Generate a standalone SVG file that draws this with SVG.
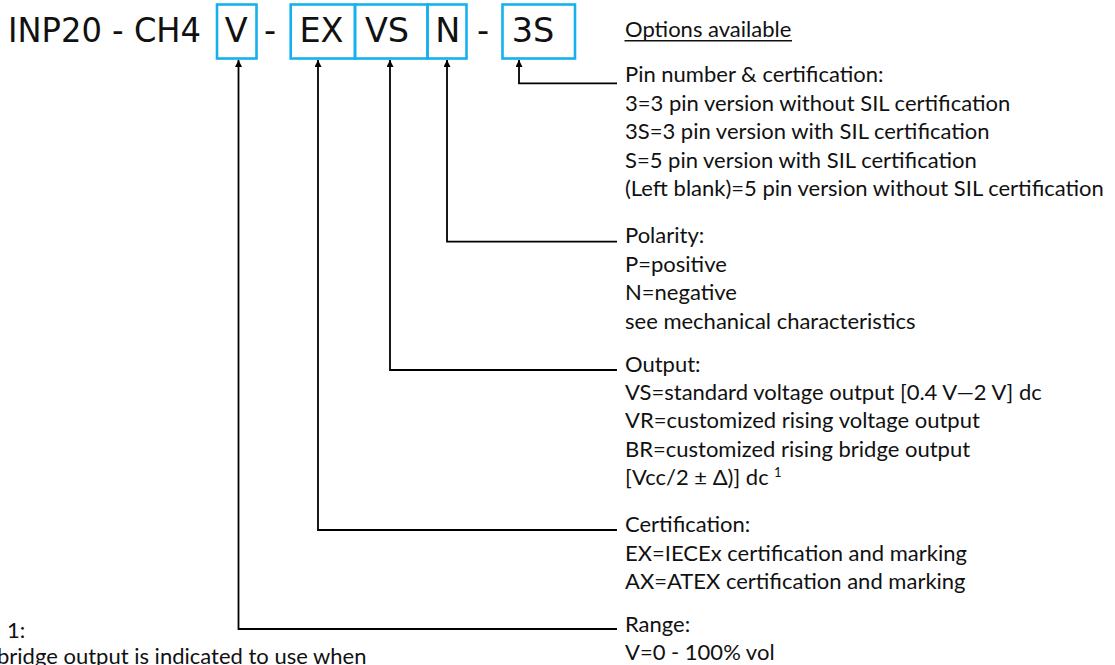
<svg xmlns="http://www.w3.org/2000/svg" width="1115" height="665" viewBox="0 0 1115 665">
<style>
.h{font-family:"DejaVu Sans",Verdana,sans-serif;font-size:33.5px;fill:#111}
.box{fill:none;stroke:#14B1EE;stroke-width:2.6}
.t{font-family:Lato,"Open Sans",sans-serif;font-size:22px;fill:#111}
.sup{font-family:Lato,"Open Sans",sans-serif;font-size:13px;fill:#111}
.c{fill:none;stroke:#000;stroke-width:1.8;marker-end:url(#arr)}
</style>
<defs>
<marker id="arr" viewBox="0 0 10 10" refX="10" refY="5" markerWidth="7" markerHeight="7" orient="auto" markerUnits="userSpaceOnUse">
<path d="M0,0 L10,5 L0,10 z" fill="#000"/>
</marker>
</defs>
<rect width="1115" height="665" fill="#fff"/>
<g id="code">
<text class="h" x="8" y="41.7" textLength="193" lengthAdjust="spacingAndGlyphs">INP20 - CH4</text>
<text class="h" x="270" y="41.7" text-anchor="middle">-</text>
<text class="h" x="483" y="41.7" text-anchor="middle">-</text>
</g>
<g id="node-V"><rect class="box" x="217" y="4.5" width="39.5" height="54"/><text class="h" x="236.2" y="41.7" text-anchor="middle">V</text></g>
<g id="node-EX"><rect class="box" x="290.7" y="4.5" width="64.3" height="54"/><text class="h" x="321.5" y="41.7" text-anchor="middle">EX</text></g>
<g id="node-VS"><rect class="box" x="355" y="4.5" width="72.5" height="54"/><text class="h" x="387" y="41.7" text-anchor="middle">VS</text></g>
<g id="node-N"><rect class="box" x="427.5" y="4.5" width="39" height="54"/><text class="h" x="447.7" y="41.7" text-anchor="middle">N</text></g>
<g id="node-3S"><rect class="box" x="502.5" y="4.5" width="72.5" height="54"/><text class="h" x="533" y="41.7" text-anchor="middle">3S</text></g>
<g id="connectors">
<path class="c" d="M617,83.3 H519 V60"/>
<path class="c" d="M617,241.7 H447 V60"/>
<path class="c" d="M617,370 H390 V60"/>
<path class="c" d="M617,530 H318 V60"/>
<path class="c" d="M617,629 H238.5 V60"/>
</g>
<g id="options-title">
<text class="t" x="625" y="37">Options available</text>
<line x1="624.5" y1="40.8" x2="792" y2="40.8" stroke="#111" stroke-width="1.4"/>
</g>
<g id="opt-pin">
<text class="t" x="625" y="82">Pin number &amp; certification:</text>
<text class="t" x="625" y="110.5">3=3 pin version without SIL certification</text>
<text class="t" x="625" y="139">3S=3 pin version with SIL certification</text>
<text class="t" x="625" y="167.5">S=5 pin version with SIL certification</text>
<text class="t" x="625" y="196">(Left blank)=5 pin version without SIL certification</text>
</g>
<g id="opt-polarity">
<text class="t" x="625" y="243">Polarity:</text>
<text class="t" x="625" y="271.5">P=positive</text>
<text class="t" x="625" y="300">N=negative</text>
<text class="t" x="625" y="328.5">see mechanical characteristics</text>
</g>
<g id="opt-output">
<text class="t" x="625" y="372">Output:</text>
<text class="t" x="625" y="400">VS=standard voltage output [0.4 V—2 V] dc</text>
<text class="t" x="625" y="428">VR=customized rising voltage output</text>
<text class="t" x="625" y="456.5">BR=customized rising bridge output</text>
<text class="t" x="625" y="485">[Vcc/2 ± Δ)] dc</text>
<text class="sup" x="774" y="477">1</text>
</g>
<g id="opt-cert">
<text class="t" x="625" y="532">Certification:</text>
<text class="t" x="625" y="560.5">EX=IECEx certification and marking</text>
<text class="t" x="625" y="589">AX=ATEX certification and marking</text>
</g>
<g id="opt-range">
<text class="t" x="625" y="632">Range:</text>
<text class="t" x="625" y="660">V=0 - 100% vol</text>
</g>
<g id="note">
<text class="t" x="7" y="638">1:</text>
<text class="t" x="-3" y="664">bridge output is indicated to use when</text>
</g>
</svg>
